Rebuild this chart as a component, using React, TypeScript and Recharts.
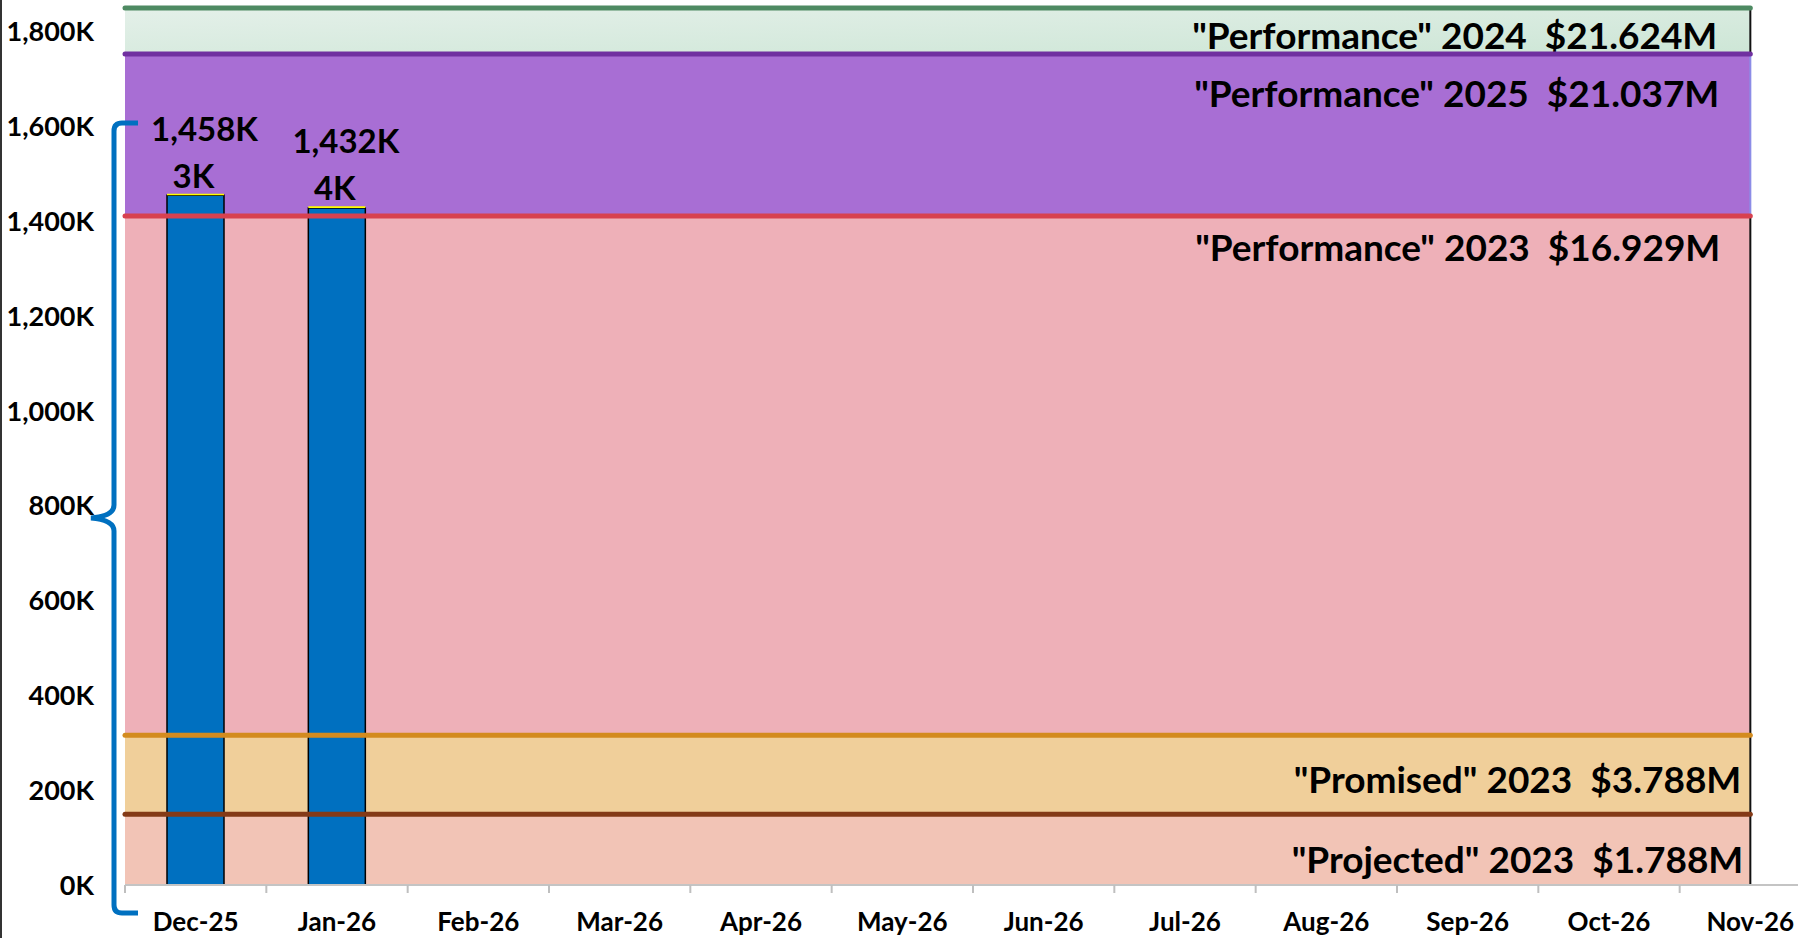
import { Bar, ComposedChart, LabelList, ReferenceArea, ReferenceLine, XAxis, YAxis } from "recharts";

const MONTHS = ["Dec-25", "Jan-26", "Feb-26", "Mar-26", "Apr-26", "May-26", "Jun-26", "Jul-26", "Aug-26", "Sep-26", "Oct-26", "Nov-26"];
const ACTUAL = [1455000, 1428000, null, null, null, null, null, null, null, null, null, null];
const ADDED = [3000, 4000, null, null, null, null, null, null, null, null, null, null];

const BAND_LABELS = [
  '"Projected" 2023  $1.788M',
  '"Promised" 2023  $3.788M',
  '"Performance" 2023  $16.929M',
  '"Performance" 2025  $21.037M',
  '"Performance" 2024  $21.624M',
];
const BAND_TOPS = [149000, 316000, 1411000, 1753000, 1850000];
const Y_TICKS = [0, 200000, 400000, 600000, 800000, 1000000, 1200000, 1400000, 1600000, 1800000];

// looks only
const BAND_STYLE = [
  { fill: "#F2C4B6", line: "#843A17", edge: "#111", dy: 59, pad: 7 },
  { fill: "#F0CF9A", line: "#D38B1F", edge: "#111", dy: 58, pad: 9 },
  { fill: "#EEB0B8", line: "#D8414F", edge: "#111", dy: 45, pad: 30 },
  { fill: "#A86ED4", line: "#7030A0", edge: "#8C8CE6", dy: 53, pad: 31 },
  { fill: "url(#g2024)", line: "#4E8A62", edge: "#111", dy: 41, pad: 33 },
];

const CHART_W = 1834;
const CHART_H = 938;
const MARGIN = { top: 8, right: 13, left: 6, bottom: 13 };
const Y_W = 119;
const CAT_W = (CHART_W - MARGIN.left - MARGIN.right - Y_W) / MONTHS.length;
const FONT = "Lato, 'Open Sans', sans-serif";

const rows = MONTHS.map((month, i) => ({
  idx: i,
  month,
  actual: ACTUAL[i],
  added: ADDED[i],
  total: ACTUAL[i] == null ? null : (ACTUAL[i] as number) + (ADDED[i] ?? 0),
}));

const kfmt = (v: number) => `${Math.round(v / 1000).toLocaleString("en-US")}K`;

function MonthTick({ x, y, payload }: any) {
  const left = x - CAT_W / 2;
  return (
    <g>
      <line x1={left} x2={left} y1={y - 8} y2={y} stroke="#BFBFBF" strokeWidth={2} />
      <text x={x} y={y + 38} textAnchor="middle" fontFamily={FONT} fontWeight={700} fontSize={26} fill="#000">
        {payload.value}
      </text>
    </g>
  );
}

function BandLabel({ viewBox, text, dy, pad }: any) {
  if (!viewBox) return null;
  return (
    <text
      x={viewBox.x + viewBox.width - pad}
      y={viewBox.y + dy}
      textAnchor="end"
      fontFamily={FONT}
      fontWeight={700}
      fontSize={37}
      fill="#000"
      style={{ whiteSpace: "pre" }}
    >
      {text}
    </text>
  );
}

function note(p: any, dx: number, dy: number) {
  if (p.value == null) return null;
  return (
    <text x={p.x + p.width / 2 + dx} y={p.y + dy} textAnchor="middle" fontFamily={FONT} fontWeight={700} fontSize={33} fill="#000">
      {kfmt(p.value)}
    </text>
  );
}

export default function App() {
  const last = MONTHS.length - 1;
  return (
    <div style={{ position: "relative", width: 1798, height: 938, overflow: "hidden", background: "#fff" }}>
      <style>{"body{margin:0}"}</style>
      <ComposedChart width={CHART_W} height={CHART_H} data={rows} margin={MARGIN}>
        <defs>
          <linearGradient id="g2024" x1="0" y1="0" x2="1" y2="1">
            <stop offset="0%" stopColor="#E4F0E9" />
            <stop offset="100%" stopColor="#CDE6D6" />
          </linearGradient>
        </defs>
        <XAxis
          xAxisId="cat"
          dataKey="month"
          interval={0}
          tickSize={8}
          tickMargin={0}
          tickLine={false}
          tick={<MonthTick />}
          axisLine={{ stroke: "#C4C4C4", strokeWidth: 2 }}
          height={40}
        />
        <XAxis xAxisId="num" dataKey="idx" type="number" domain={[-0.5, last + 0.5]} allowDataOverflow hide />
        <YAxis
          width={Y_W}
          domain={[0, BAND_TOPS[BAND_TOPS.length - 1]]}
          allowDataOverflow
          ticks={Y_TICKS}
          interval={0}
          tickFormatter={kfmt}
          axisLine={false}
          tickLine={false}
          tickMargin={25}
          tick={{ fill: "#000", fontSize: 27, fontWeight: 700, fontFamily: FONT }}
        />
        {BAND_TOPS.map((top, i) => (
          <ReferenceArea
            key={"a" + i}
            xAxisId="num"
            x1={-0.5}
            x2={last}
            y1={i === 0 ? 0 : BAND_TOPS[i - 1]}
            y2={top}
            fill={BAND_STYLE[i].fill}
            fillOpacity={1}
            stroke="none"
            label={<BandLabel text={BAND_LABELS[i]} dy={BAND_STYLE[i].dy} pad={BAND_STYLE[i].pad} />}
          />
        ))}
        <Bar xAxisId="cat" dataKey="actual" stackId="s" fill="#0070C0" stroke="#000" strokeWidth={1.5} barSize={57} isAnimationActive={false} />
        <Bar xAxisId="cat" dataKey="added" stackId="s" fill="#FFFF00" barSize={57} isAnimationActive={false}>
          <LabelList dataKey="added" content={(p: any) => note(p, -2, -6)} />
          <LabelList dataKey="total" content={(p: any) => note(p, 9, -53)} />
        </Bar>
        {BAND_TOPS.map((top, i) => (
          <ReferenceLine
            key={"e" + i}
            xAxisId="num"
            segment={[
              { x: last, y: i === 0 ? 0 : BAND_TOPS[i - 1] },
              { x: last, y: top },
            ]}
            stroke={BAND_STYLE[i].edge}
            strokeWidth={2}
          />
        ))}
        {BAND_TOPS.map((top, i) => (
          <ReferenceLine
            key={"l" + i}
            xAxisId="num"
            segment={[
              { x: -0.5, y: top },
              { x: last, y: top },
            ]}
            stroke={BAND_STYLE[i].line}
            strokeWidth={5}
            strokeLinecap="round"
          />
        ))}
      </ComposedChart>
      <div style={{ position: "absolute", left: 0, top: 0, width: 2, height: 938, background: "#333" }} />
      <svg style={{ position: "absolute", left: 0, top: 0 }} width={160} height={938}>
        <path
          d="M138,123 L122,123 Q114,123 114,131 L114,505 Q114,516 91,518 Q114,520 114,531 L114,905 Q114,913 122,913 L138,913"
          fill="none"
          stroke="#0070C0"
          strokeWidth={5}
        />
      </svg>
    </div>
  );
}
